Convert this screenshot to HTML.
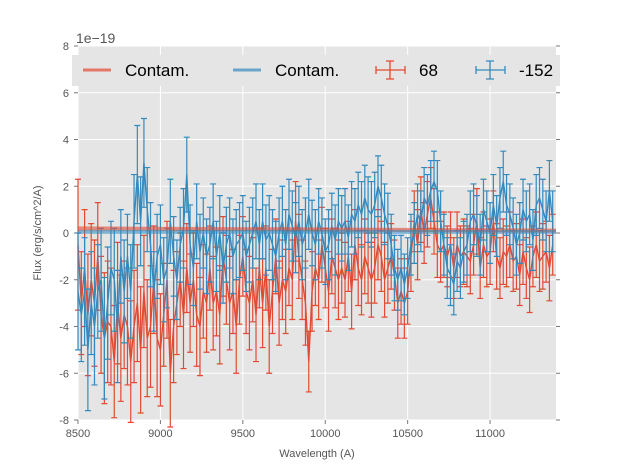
<!DOCTYPE html>
<html><head><meta charset="utf-8"><style>
body{margin:0;background:#fff;font-family:"Liberation Sans",sans-serif}
svg text{font-family:"Liberation Sans",sans-serif}
</style></head><body>
<svg id="chart" width="617" height="467" xmlns="http://www.w3.org/2000/svg"></svg>
<script>
const wavelengths=[];for(let w=8500;w<=11380;w+=20)wavelengths.push(w);
const redFlux=[-0.5,-3,-1.5,-3.5,-2,-3,-1,-3.5,-4.5,-3.8,
-4,-5.5,-3,-4.5,-3.5,-4,-5.5,-4,-3,-5,
-2.5,-4.5,-4,-2,-4.5,-5,-3.5,-2,-6,-4,
-3,-2,-3.5,-1.5,-3,-2,-3.5,-4,-2.5,-3,
-1.5,-3,-2.5,-3.5,-1,-2,-3,-2.5,-4,-2,
-1,-2.5,-3,-2,-3.5,-1.5,-3,-1.5,-4,-2.5,
-1,-3,-2,-2.5,-1.5,-2,0.5,-1,-2,-3,
-5.5,-2.5,-1.5,-2,-0.5,-1.5,-2.5,-1,-1.5,-2,
-1.5,-2,-1,-2.5,-0.5,-1.5,-2,-1,-1.5,-2,
-1.5,-0.5,-1,-2,-1.5,-1,-1.8,-3,-2.5,-3,
-2.5,-1,0.5,-0.5,1,0,0.8,1.5,0.5,-0.5,
-0.8,-0.5,-1,-0.5,-1.5,-0.5,-1,-0.8,-1,-1.2,
-0.5,0.5,-1.5,-0.5,-1,-0.8,0.5,-1,-1.5,-0.8,
-1,-0.5,-1.2,-1,-1.8,-0.8,-1.5,-2,-1,-0.5,
-1.2,-1,-0.8,-1.5,-0.5];
const blueFlux=[-2.5,-3.5,-2.5,-5,-3,-4,-2.5,-2,-4.5,-3,
-1.5,-2,-4,-1,-2.5,-1,-2.5,0.5,2.5,0.5,
3,1,-0.5,-2.5,-1,-0.5,-2,-1.5,0.5,-1,
-2,-0.5,0.2,2.5,-0.5,-1.5,0.5,-0.8,0,-1,
-0.5,0.5,-1,0,-1.5,-0.5,0,-1,-0.5,-0.3,
0,-1,-0.5,0,0.5,-0.5,0.5,-0.3,0,-0.5,
-1,0,0.5,-0.5,0.8,0.3,-0.2,0.5,-0.5,0,
0.8,0,-0.5,0.5,0,-0.8,-0.5,0.3,-0.3,0.5,
0.2,0.5,-0.2,0.8,0.5,1.2,0.8,1.5,1.0,0.8,
1.2,2,1.5,0.8,0.3,-0.5,-1.5,-2,-1.5,-2.2,
-1.5,-0.5,0,0.8,0.5,1.5,1.2,1.8,2.2,1.8,
0.5,-0.5,-1.5,-1.8,-2.2,-1.2,-1.5,-0.8,-0.5,0.5,
0.8,0.3,-0.5,1,0.5,0,1.2,0.3,1.5,2.2,
1.2,0.8,0.2,-0.5,0,1,0.5,0.8,-0.3,1.2,
1.5,1.0,0.5,1.8,0.5];
const redErr=[2.8,2.2,2.5,2.6,2.4,2.7,2.3,2.5,2.8,2.6, 2.5,2.4,2.6,2.7,2.3,2.5,2.6,2.4,2.5,2.7,
2.4,2.5,2.6,2.3,2.5,2.4,2.2,2.5,2.3,2.4, 2.2,2.0,2.3,1.9,2.1,2.0,2.2,2.1,2.0,2.1,
1.8,2.0,1.9,2.1,1.7,1.9,2.0,1.8,2.0,1.9, 1.7,1.8,2.0,1.8,2.0,1.7,1.9,1.8,2.0,1.8,
1.6,1.8,1.7,1.8,1.6,1.7,1.7,1.8,1.7,1.8, 1.3,1.7,1.6,1.7,1.6,1.7,1.7,1.6,1.7,1.7,
1.5,1.6,1.5,1.6,1.5,1.6,1.5,1.6,1.5,1.6, 1.5,1.5,1.5,1.6,1.5,1.4,1.5,1.5,1.4,1.5,
1.4,1.5,1.3,1.5,1.4,1.3,1.4,1.3,1.4,1.4, 1.3,1.4,1.3,1.4,1.3,1.4,1.3,1.4,1.3,1.4,
1.3,1.4,1.3,1.4,1.3,1.4,1.3,1.4,1.3,1.4, 1.3,1.4,1.3,1.4,1.3,1.4,1.3,1.4,1.3,1.4,
1.3,1.4,1.3,1.4,1.3];
const blueErr=[2.5,2.0,2.3,2.6,2.2,2.5,2.0,2.2,2.6,2.4, 2.0,2.2,2.4,2.0,2.2,1.8,2.0,2.0,2.1,1.9,
1.9,1.8,1.8,1.7,1.8,1.7,1.8,1.7,1.8,1.7, 1.7,1.6,1.7,1.6,1.7,1.6,1.6,1.6,1.5,1.6,
1.6,1.6,1.5,1.6,1.5,1.6,1.5,1.6,1.5,1.6, 1.6,1.5,1.6,1.5,1.6,1.5,1.6,1.5,1.6,1.5,
1.5,1.5,1.5,1.5,1.5,1.5,1.5,1.5,1.5,1.5, 1.5,1.4,1.5,1.4,1.5,1.4,1.5,1.4,1.5,1.4,
1.4,1.4,1.4,1.4,1.4,1.4,1.4,1.4,1.4,1.4, 1.4,1.3,1.4,1.3,1.4,1.3,1.4,1.3,1.4,1.3,
1.3,1.3,1.3,1.3,1.3,1.3,1.3,1.3,1.3,1.3, 1.3,1.3,1.3,1.3,1.3,1.3,1.3,1.3,1.3,1.3,
1.3,1.3,1.3,1.3,1.3,1.3,1.3,1.3,1.3,1.3, 1.3,1.3,1.3,1.3,1.3,1.3,1.3,1.3,1.3,1.3,
1.3,1.3,1.3,1.3,1.3];
const contamRed=[0.2,0.1];
const contamBlue=[0.05,0.05];
const yTicks=[-8,-6,-4,-2,0,2,4,6,8];
const xTicks=[8500,9000,9500,10000,10500,11000];

const L=78,R=556,T=46,B=420,X0=8500,X1=11400,Y0=-8,Y1=8;
const xs=v=>L+(v-X0)/(X1-X0)*(R-L);
const ys=v=>B-(v-Y0)/(Y1-Y0)*(B-T);
const svg=document.getElementById('chart');
const NS='http://www.w3.org/2000/svg';
function mk(tag,attrs,parent){const e=document.createElementNS(NS,tag);for(const k in attrs)e.setAttribute(k,attrs[k]);(parent||svg).appendChild(e);return e;}

const bg=mk('rect',{x:L,y:T,width:R-L,height:B-T,fill:'#e5e5e5'});


const grid=mk('g',{});


yTicks.forEach(t=>{mk('line',{x1:L,x2:R,y1:ys(t),y2:ys(t),stroke:'#fff','stroke-width':1},grid);});
xTicks.forEach(t=>{mk('line',{x1:xs(t),x2:xs(t),y1:T,y2:B,stroke:'#fff','stroke-width':1},grid);});

const axes=mk('g',{'font-size':11,fill:'#555'});


yTicks.forEach(t=>{
 mk('line',{x1:L-4,x2:L,y1:ys(t),y2:ys(t),stroke:'#777'},axes);
 mk('line',{x1:R,x2:R+4,y1:ys(t),y2:ys(t),stroke:'#777'},axes);
 const tx=mk('text',{x:L-9,y:ys(t)+4,'text-anchor':'end'},axes);tx.textContent=t;
 
 
});
xTicks.forEach(t=>{
 mk('line',{x1:xs(t),x2:xs(t),y1:B,y2:B+4,stroke:'#777'},axes);
 const tx=mk('text',{x:xs(t),y:B+17,'text-anchor':'middle'},axes);tx.textContent=t;
 
 
});
const off=mk('text',{x:76,y:43,'font-size':14,fill:'#555'});off.textContent='1e\u221219';


const xl=mk('text',{x:317,y:457,'font-size':11,fill:'#555','text-anchor':'middle'});xl.textContent='Wavelength (A)';


const yl=mk('text',{x:0,y:0,'font-size':11,fill:'#555','text-anchor':'middle',transform:'translate(41,233) rotate(-90)'});yl.textContent='Flux (erg/s/cm^2/A)';



function series(vals,errs,color,name){
 const g=mk('g',{});
 
 
 vals.forEach((v,i)=>{
  const x=xs(wavelengths[i]),y1=ys(v-errs[i]),y2=ys(v+errs[i]);
  const e=mk('path',{d:`M${x},${y1}V${y2}M${x-3},${y1}h6M${x-3},${y2}h6`,stroke:color,'stroke-width':1.2,fill:'none'},g);
  
  
 });
 const p=mk('polyline',{points:vals.map((v,i)=>xs(wavelengths[i])+','+ys(v)).join(' '),stroke:color,'stroke-width':1.4,fill:'none'},g);
 
 
}
series(redFlux,redErr,'#e24a33','series-68');
series(blueFlux,blueErr,'#348abd','series-minus-152');

const cr=mk('line',{x1:L,x2:R,y1:ys(contamRed[0]),y2:ys(contamRed[1]),stroke:'#e24a33','stroke-width':4,'stroke-opacity':0.6});


const cb=mk('line',{x1:L,x2:R,y1:ys(contamBlue[0]),y2:ys(contamBlue[1]),stroke:'#348abd','stroke-width':4,'stroke-opacity':0.6});



const lg=mk('g',{'font-size':17,fill:'#000'});


mk('rect',{x:72,y:55,width:488,height:31,fill:'#e5e5e5'},lg);
const entries=[{x:83,c:'#e24a33',t:'Contam.',eb:false},{x:233,c:'#348abd',t:'Contam.',eb:false},{x:376,c:'#e24a33',t:'68',eb:true},{x:476,c:'#348abd',t:'-152',eb:true}];
entries.forEach(en=>{
 const g=mk('g',{},lg);
 
 
 if(en.eb){mk('path',{d:`M${en.x},70h29M${en.x+14},61v18M${en.x+10},61h8M${en.x+10},79h8M${en.x},66v8M${en.x+29},66v8`,stroke:en.c,'stroke-width':1.3,fill:'none'},g);}
 else mk('line',{x1:en.x,x2:en.x+28,y1:70,y2:70,stroke:en.c,'stroke-width':3,'stroke-opacity':0.7},g);
 const t=mk('text',{x:en.x+(en.eb?43:42),y:76},g);t.textContent=en.t;
});
</script>
</body></html>
